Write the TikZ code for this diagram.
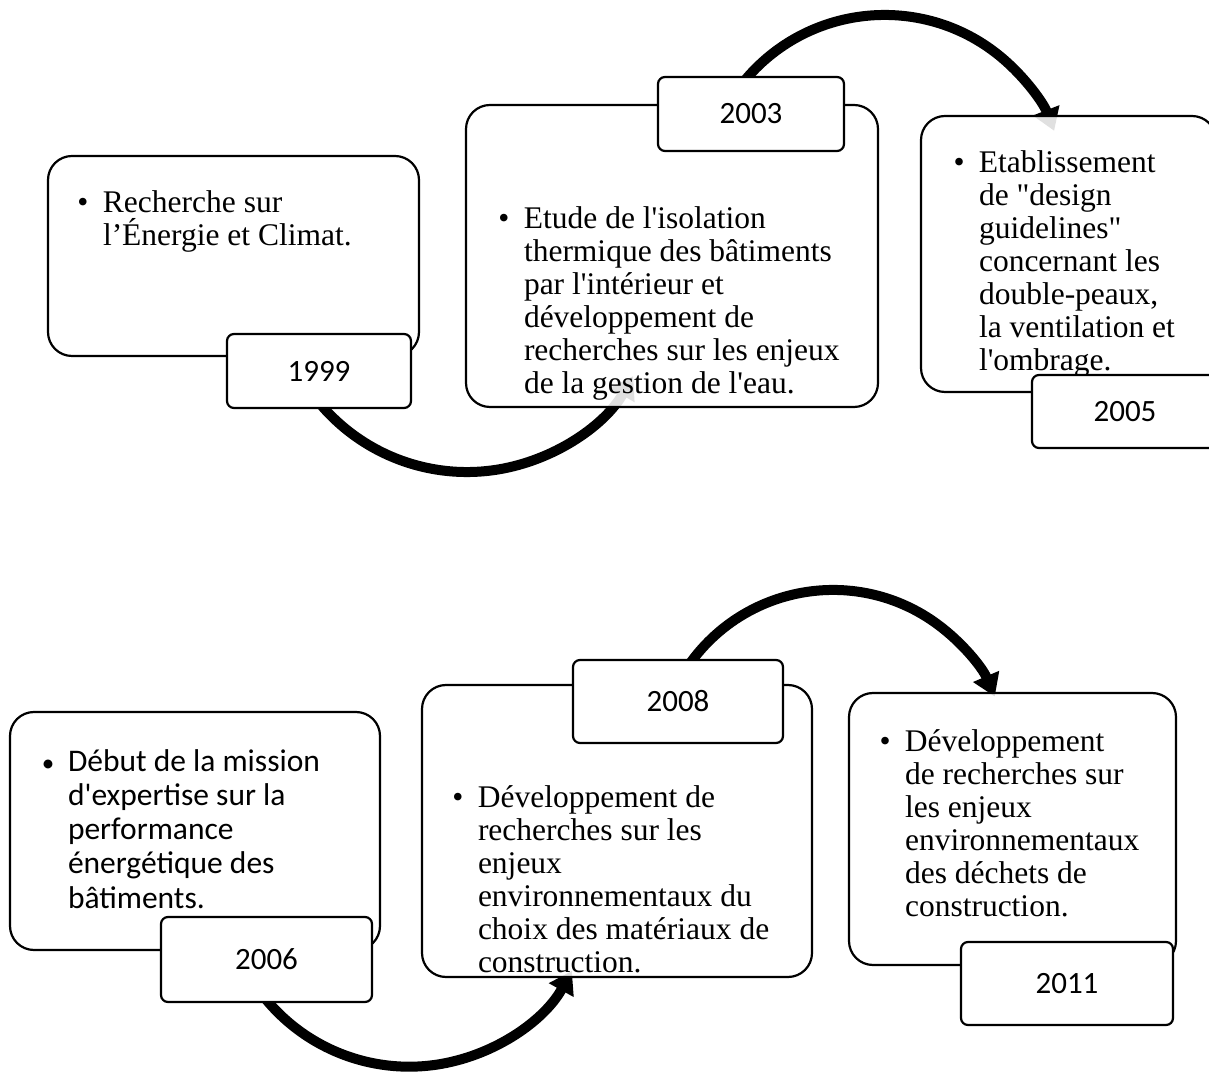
\documentclass[tikz,border=0pt]{standalone}
\usepackage{fontspec}
\setmainfont{Liberation Serif}
\newfontfamily\calibfont{Carlito}
\usetikzlibrary{arrows.meta,calc,backgrounds}

% straight quotes (the TeX mapping would curl them)
\newcommand{\sqt}{\textquotesingle}
\newcommand{\dqt}{\textquotedbl}
% bulleted text block: first baseline at the node anchor
\newcommand{\bulletblock}[1]{\parbox[t]{430pt}{\raggedright\noindent\llap{\makebox[40pt][c]{\textbullet}}#1}}
% same, with a slightly smaller bullet for the sans text
\newcommand{\sansbulletblock}[1]{\parbox[t]{430pt}{\raggedright\noindent\llap{\makebox[40pt][c]{\fontsize{25}{25}\selectfont\textbullet}}#1}}

\tikzset{
  mainbox/.style={draw=black, line width=2.2pt, rounded corners=24pt,
    fill=white, fill opacity=0.88, inner sep=0pt, outer sep=0pt},
  yeartag/.style={draw=black, line width=2.2pt, rounded corners=7pt,
    fill=white, inner sep=0pt, outer sep=0pt,
    font=\calibfont\fontsize{31}{36}\selectfont},
  serifblurb/.style={anchor=base west, inner sep=0pt, outer sep=0pt,
    font=\fontsize{31.5}{33}\selectfont},
  sansblurb/.style={anchor=base west, inner sep=0pt, outer sep=0pt,
    font=\calibfont\fontsize{31.5}{34.3}\selectfont},
  flowarc/.style={line width=10pt, draw=black,
    -{Triangle[length=22pt,width=27pt]}},
}

\begin{document}
\begin{tikzpicture}[x=1pt, y=1pt]
\useasboundingbox (0,0) rectangle (1209,1074);
\clip (0,0) rectangle (1209,1074);

% ---------- upper row ----------
\node[mainbox, minimum width=371pt, minimum height=200pt] (A) at (233.5,818) {};
\node[serifblurb] (txtA) at (103,861) {\bulletblock{Recherche sur\\l’Énergie et Climat.}};
\node[yeartag, minimum width=184pt, minimum height=74pt] (tA) at (319,703) {1999};

\node[mainbox, minimum width=412pt, minimum height=302pt] (B) at (672,818) {};
\node[serifblurb] (txtB) at (524,845) {\bulletblock{Etude de l\sqt isolation\\thermique des bâtiments\\par l\sqt intérieur et\\développement de\\recherches sur les enjeux\\de la gestion de l\sqt eau.}};
\node[yeartag, minimum width=186pt, minimum height=74pt] (tB) at (751,960) {2003};

\node[mainbox, minimum width=295pt, minimum height=276pt] (C) at (1068.5,820) {};
\node[serifblurb] (txtC) at (979,901) {\bulletblock{Etablissement\\de \dqt design\\guidelines\dqt\\concernant les\\double-peaux,\\la ventilation et\\l\sqt ombrage.}};
\node[yeartag, minimum width=186pt, minimum height=73pt] (tC) at (1125,662.5) {2005};

% ---------- lower row ----------
\node[mainbox, minimum width=370pt, minimum height=238pt] (D) at (195,243) {};
\node[sansblurb] (txtD) at (68,303) {\sansbulletblock{Début de la mission\\d\sqt expertise sur la\\performance\\énergétique des\\bâtiments.}};
\node[yeartag, minimum width=211pt, minimum height=85pt] (tD) at (266.5,114.5) {2006};

\node[mainbox, minimum width=390pt, minimum height=292pt] (E) at (617,243) {};
\node[serifblurb] (txtE) at (478,267) {\bulletblock{Développement de\\recherches sur les\\enjeux\\environnementaux du\\choix des matériaux de\\construction.}};
\node[yeartag, minimum width=210pt, minimum height=83pt] (tE) at (678,372.5) {2008};

\node[mainbox, minimum width=327pt, minimum height=272pt] (F) at (1012.5,245) {};
\node[serifblurb] (txtF) at (905,323) {\bulletblock{Développement\\de recherches sur\\les enjeux\\environnementaux\\des déchets de\\construction.}};
\node[yeartag, minimum width=212pt, minimum height=83pt] (tF) at (1067,90.5) {2011};

% ---------- curved arrows, behind the boxes ----------
\begin{scope}[on background layer]
  \draw[flowarc] ($(tA.south)+(3,2)$) arc[start angle=221, end angle=330, radius=192];
  \draw[flowarc] ($(tB.north)+(-5,-2)$) arc[start angle=139.6, end angle=21.3, radius=182];
  \draw[flowarc] ($(tD.south)+(0,2)$) arc[start angle=219.9, end angle=331, radius=186];
  \draw[flowarc] ($(tE.north)+(13,-2)$) arc[start angle=143.8, end angle=23.2, radius=176];
\end{scope}
\end{tikzpicture}
\end{document}
